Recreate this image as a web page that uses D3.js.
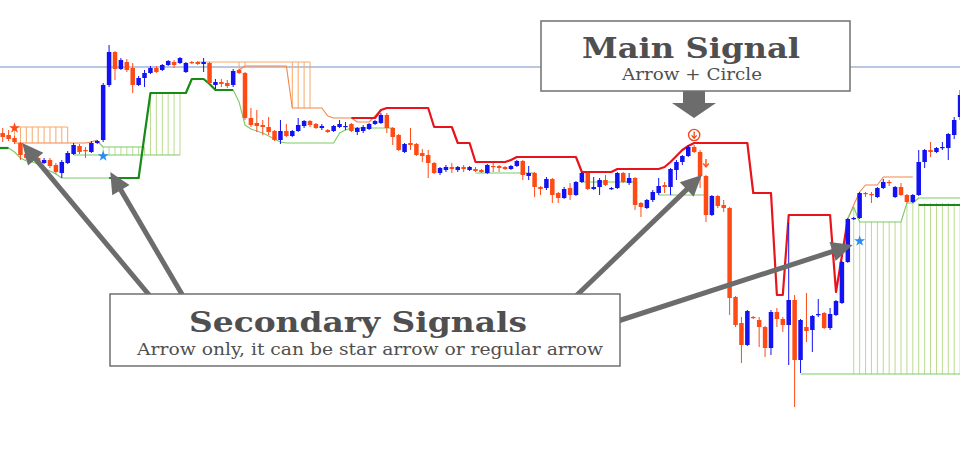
<!DOCTYPE html>
<html><head><meta charset="utf-8">
<script src="https://cdn.jsdelivr.net/npm/d3@7"></script>
<style>html,body{margin:0;padding:0;background:#fff;overflow:hidden}</style>
</head><body>
<svg id="c" width="960" height="454"></svg>
<script>
// ---- DATA (prices in points, 1 point = 0.0001) ----
const opens = [
11267,11265,11262,11257,11246,11243,11242,11237,11240,11235,
11227,11237,11246,11254,11250,11248,11257,11260,11315,11348,
11331,11338,11332,11315,11322,11327,11332,11330,11335,11338,
11337,11328,11338,11338,11336,11337,11315,11318,11317,11315,
11330,11327,11282,11277,11275,11273,11269,11260,11269,11264,
11269,11274,11279,11276,11272,11270,11269,11273,11273,11276,
11268,11269,11271,11276,11277,11285,11272,11265,11248,11257,
11256,11247,11245,11237,11227,11230,11233,11230,11233,11230,
11231,11230,11227,11234,11234,11233,11231,11234,11239,11224,
11227,11213,11212,11221,11207,11202,11212,11205,11218,11227,
11211,11213,11220,11211,11212,11227,11217,11222,11197,11192,
11200,11207,11215,11213,11230,11238,11244,11253,11248,11224,
11185,11204,11195,11192,11103,11077,11055,11083,11080,11073,
11052,11088,11081,11075,11100,11040,11073,11070,11085,11087,
11072,11085,11097,11138,11181,11182,11207,11206,11203,11212,
11218,11203,11213,11205,11198,11205,11238,11250,11248,11252,
11252,11265,11283];
const highs = [
11272,11270,11264,11258,11248,11245,11244,11242,11242,11237,
11240,11249,11257,11256,11253,11259,11260,11317,11355,11349,
11342,11341,11337,11324,11330,11334,11334,11336,11340,11340,
11343,11338,11339,11339,11342,11338,11321,11321,11320,11331,
11331,11328,11292,11290,11280,11283,11270,11280,11276,11270,
11282,11280,11280,11277,11276,11271,11275,11280,11278,11277,
11273,11275,11277,11280,11287,11287,11273,11266,11257,11272,
11257,11251,11250,11238,11233,11235,11237,11234,11235,11234,
11233,11231,11236,11237,11235,11234,11235,11240,11240,11234,
11228,11214,11223,11222,11208,11213,11217,11219,11228,11228,
11223,11222,11225,11213,11228,11228,11227,11223,11198,11201,
11210,11222,11218,11232,11240,11245,11255,11255,11250,11225,
11205,11205,11200,11193,11104,11083,11090,11084,11083,11074,
11090,11092,11083,11177,11105,11081,11107,11085,11101,11088,
11092,11100,11139,11182,11183,11208,11208,11208,11213,11221,
11220,11214,11217,11206,11206,11250,11251,11258,11253,11258,
11267,11283,11310];
const lows = [
11258,11259,11256,11240,11240,11238,11235,11236,11232,11226,
11222,11236,11245,11246,11242,11247,11256,11258,11313,11320,
11330,11328,11307,11314,11313,11326,11327,11329,11334,11332,
11336,11327,11336,11335,11328,11316,11311,11313,11312,11313,
11326,11280,11273,11268,11265,11265,11259,11256,11263,11263,
11268,11272,11273,11271,11270,11267,11268,11272,11270,11268,
11265,11267,11270,11275,11276,11267,11255,11249,11247,11250,
11244,11238,11222,11226,11225,11228,11227,11228,11228,11229,
11228,11227,11226,11228,11228,11230,11230,11233,11220,11220,
11203,11205,11210,11197,11197,11201,11200,11204,11217,11210,
11210,11205,11214,11210,11211,11217,11215,11190,11183,11191,
11198,11205,11207,11205,11220,11235,11243,11247,11212,11178,
11184,11192,11188,11085,11073,11037,11054,11081,11053,11043,
11045,11073,11068,11035,10993,11027,11058,11048,11083,11071,
11070,11084,11096,11137,11180,11181,11203,11197,11202,11211,
11214,11202,11204,11197,11197,11204,11232,11243,11247,11250,
11240,11261,11280];
const closes = [
11263,11261,11258,11245,11242,11240,11237,11240,11234,11228,
11238,11247,11255,11248,11249,11257,11259,11315,11348,11331,
11340,11330,11315,11322,11327,11332,11328,11335,11339,11335,
11342,11337,11337,11336,11338,11317,11318,11316,11314,11329,
11327,11282,11275,11274,11273,11268,11260,11269,11264,11269,
11275,11279,11275,11272,11274,11268,11274,11276,11274,11269,
11272,11273,11276,11279,11285,11272,11263,11250,11256,11255,
11245,11244,11237,11227,11232,11233,11231,11233,11231,11233,
11229,11228,11235,11233,11232,11231,11234,11239,11225,11227,
11213,11211,11221,11205,11202,11211,11205,11218,11227,11211,
11213,11220,11215,11212,11227,11218,11222,11195,11193,11200,
11208,11214,11213,11231,11238,11244,11253,11248,11224,11185,
11204,11194,11192,11102,11075,11055,11089,11082,11073,11052,
11088,11081,11075,11100,11040,11080,11069,11084,11086,11072,
11086,11099,11138,11181,11182,11207,11206,11205,11212,11218,
11217,11213,11205,11198,11205,11238,11250,11248,11252,11253,
11266,11280,11305];

// reference horizontal level
const refLevel = 11333;

// thin upper band (orange) segments: [barIndex, price]
const upperBand = [
  [[2,11257],[14,11257],[15,11258],[16,11260]],
  [[40,11330],[41,11334],[48,11334],[49,11292],[54,11292],[55,11284],[56,11282],[59,11282],[60,11278],[62,11278],[63,11284],[64,11290]],
  [[143,11181],[144,11195],[145,11208],[146,11215],[148,11215],[149,11223],[154,11223]]
];
// previous upper levels (orange box tops): [from, to, price]
const upperLevels = [[2,11,11273],[33,52,11338]];
// thin lower band (light green) segments
const lowerBand = [
  [[1,11252],[2,11248],[3,11242],[4,11239],[5,11238],[6,11236],[7,11232],[8,11229],[9,11226],[10,11222],[18,11222]],
  [[16,11259],[17,11253],[24,11253]],
  [[12,11245],[30,11245]],
  [[39,11310],[40,11298],[41,11275],[42,11271],[43,11269],[44,11267],[45,11264],[46,11261],[47,11258],[48,11257],[56,11257],[57,11267],[58,11270],[59,11272],[66,11272]],
  [[80,11227],[90,11227]],
  [[98,11218],[107,11218]],
  [[111,11205],[119,11205]],
  [[135,11026],[162,11026]],
  [[143,11182],[144,11193],[145,11178],[152,11178],[153,11197],[154,11197],[155,11202],[162,11202]]
];
// bullish trailing line (dark green)
const trendUp = [
  [[-0.5,11252],[1,11252]],
  [[18,11222],[23,11222],[24,11265],[25,11307],[31,11307],[32,11321],[34,11321],[35,11316],[36,11310],[39,11310]],
  [[155,11195],[162,11195]]
];
// bearish trailing line (red)
const trendDown = [[59,11282],[63,11282],[64,11290],[65,11292],[72,11292],[73,11273],[76,11273],[77,11257],[79,11257],[80,11238],[85,11238],[86,11240],[87,11243],[97,11243],[98,11228],[103,11228],[104,11231],[111,11231],[112,11233],[113,11238],[114,11244],[115,11250],[116,11254],[117,11257],[126,11257],[127,11207],[130,11207],[131,11105],[132,11105],[133,11185],[140,11185],[141,11108],[142,11144],[143,11181]];
// hatched zones: [from, to, top price, bottom price]
const orangeHatch = [[2,11,11273,11257],[40,40,11338,11330],[41,41,11338,11334],[49,52,11338,11292]];
const greenHatch = [[17,24,11253,11245],[25,30,11307,11245],[144,144,11193,11026],[145,152,11178,11026],[153,162,11197,11026]];
// signals
const starSignals = [{i:2,p:11272,dir:"sell"},{i:17,p:11244,dir:"buy"},{i:145,p:11159,dir:"buy"}];
const circleSignals = [{i:117,p:11265}];
const arrowSignals = [{i:119,p:11237}];

// ---- CHART ----
const W = 960, H = 454;
const svg = d3.select("#c");
const n = opens.length;
const x = d3.scaleLinear().domain([0, n-1]).range([2.7, 960.1]);
const y = d3.scaleLinear().domain([10946, 11400]).range([H, 0]);

const C = {
  bull:"#1212f2", bear:"#ff4a14", upThin:"#f38646", upHatch:"#f8a868",
  lowThin:"#7acb68", lowHatch:"#b9dc8e", trendUp:"#178a17", trendDn:"#e8141c",
  ref:"#6f93c4", annot:"#6c6c6c", text:"#4f4f4f"
};

// reference line
svg.append("line").attr("x1",0).attr("x2",W).attr("y1",y(refLevel)).attr("y2",y(refLevel))
  .attr("stroke",C.ref).attr("stroke-width",1);

function hatch(zones, color){
  const g = svg.append("g").attr("stroke",color).attr("stroke-width",1);
  zones.forEach(([a,b,t,bt])=>{
    d3.range(a,b+1).forEach(i=>{
      g.append("line").attr("x1",x(i)).attr("x2",x(i)).attr("y1",y(t)).attr("y2",y(bt));
    });
  });
}
hatch(orangeHatch, C.upHatch);
hatch(greenHatch, C.lowHatch);

const line = d3.line().x(d=>x(d[0])).y(d=>y(d[1]));
function path(pts, color, w){
  svg.append("path").attr("d",line(pts)).attr("fill","none").attr("stroke",color)
    .attr("stroke-width",w).attr("stroke-linejoin","round");
}
upperLevels.forEach(([a,b,p])=>path([[a,p],[b,p]], C.upHatch, 1));
upperBand.forEach(s=>path(s, C.upThin, 1.1));
lowerBand.forEach(s=>path(s, C.lowThin, 1.1));
trendUp.forEach(s=>path(s, C.trendUp, 2.2));
path(trendDown, C.trendDn, 2.2);

// candles
const bw = 4.5;
const cg = svg.append("g");
d3.range(n).forEach(i=>{
  const o=opens[i], c=closes[i], col = c>=o ? C.bull : C.bear;
  cg.append("line").attr("x1",x(i)).attr("x2",x(i)).attr("y1",y(highs[i])).attr("y2",y(lows[i]))
    .attr("stroke",col).attr("stroke-width",1);
  const top = y(Math.max(o,c)), bot = y(Math.min(o,c));
  cg.append("rect").attr("x",x(i)-bw/2).attr("y",top).attr("width",bw)
    .attr("height",Math.max(1.2,bot-top)).attr("fill",col);
});

// signals
const star = d3.symbol().type(d3.symbolStar).size(38);
starSignals.forEach(s=>{
  svg.append("path").attr("d",star()).attr("transform",`translate(${x(s.i)},${y(s.p)})`)
    .attr("fill", s.dir==="buy" ? "#2a8cf0" : "#ff4a1a");
});
circleSignals.forEach(s=>{
  const cx=x(s.i), cy=y(s.p);
  svg.append("circle").attr("cx",cx).attr("cy",cy).attr("r",5.6).attr("fill","#fff")
    .attr("stroke","#f04a1a").attr("stroke-width",1.4);
  svg.append("path").attr("d",`M${cx},${cy-3.5}V${cy+3}M${cx-2.6},${cy+0.4}L${cx},${cy+3.2}L${cx+2.6},${cy+0.4}`)
    .attr("fill","none").attr("stroke","#f04a1a").attr("stroke-width",1.3);
});
arrowSignals.forEach(s=>{
  const cx=x(s.i), cy=y(s.p);
  svg.append("path").attr("d",`M${cx},${cy-4}V${cy+3.5}M${cx-2.8},${cy+0.5}L${cx},${cy+3.8}L${cx+2.8},${cy+0.5}`)
    .attr("fill","none").attr("stroke","#ff5a1f").attr("stroke-width",1.5);
});

// annotation arrows (tails on the boxes, tips on the signal bars)
const pointers = [
  {from:[150,296], to:[x(3.3), y(11257)]},
  {from:[183,296], to:[x(18.2), y(11228)]},
  {from:[576,296], to:[x(118.3), y(11225)]},
  {from:[618,321], to:[x(143.8), y(11155)]}
];
pointers.forEach(p=>{
  const [x0,y0]=p.from, [x1,y1]=p.to;
  const dx=x1-x0, dy=y1-y0, L=Math.hypot(dx,dy), ux=dx/L, uy=dy/L;
  const hl=21, hw=10;
  const bx=x1-ux*hl, by=y1-uy*hl;
  svg.append("line").attr("x1",x0).attr("y1",y0).attr("x2",bx+ux*2).attr("y2",by+uy*2)
    .attr("stroke",C.annot).attr("stroke-width",5);
  svg.append("path").attr("d",`M${x1},${y1}L${bx-uy*hw},${by+ux*hw}L${bx+uy*hw},${by-ux*hw}Z`)
    .attr("fill",C.annot);
});

// main signal box
svg.append("path").attr("d","M683,91H705V103H716L694,118L672,103H683Z").attr("fill",C.annot);
svg.append("rect").attr("x",541).attr("y",21).attr("width",309).attr("height",70)
  .attr("fill","#fff").attr("stroke","#707070").attr("stroke-width",1.5);
svg.append("text").attr("x",691).attr("y",58).attr("text-anchor","middle")
  .attr("font-family","DejaVu Serif, serif").attr("font-weight","bold").attr("font-size",27)
  .attr("fill",C.text).attr("textLength",218).attr("lengthAdjust","spacingAndGlyphs").text("Main Signal");
svg.append("text").attr("x",692).attr("y",80).attr("text-anchor","middle")
  .attr("font-family","DejaVu Serif, serif").attr("font-size",16.5)
  .attr("fill",C.text).attr("textLength",140).attr("lengthAdjust","spacingAndGlyphs").text("Arrow + Circle");

// secondary signals box
svg.append("rect").attr("x",110).attr("y",294).attr("width",510).attr("height",72)
  .attr("fill","#fff").attr("stroke","#707070").attr("stroke-width",1.5);
svg.append("text").attr("x",358).attr("y",332).attr("text-anchor","middle")
  .attr("font-family","DejaVu Serif, serif").attr("font-weight","bold").attr("font-size",28)
  .attr("fill",C.text).attr("textLength",338).attr("lengthAdjust","spacingAndGlyphs").text("Secondary Signals");
svg.append("text").attr("x",370).attr("y",355).attr("text-anchor","middle")
  .attr("font-family","DejaVu Serif, serif").attr("font-size",16.5)
  .attr("fill",C.text).attr("textLength",466).attr("lengthAdjust","spacingAndGlyphs")
  .text("Arrow only, it can be star arrow or regular arrow");
</script>
</body></html>
